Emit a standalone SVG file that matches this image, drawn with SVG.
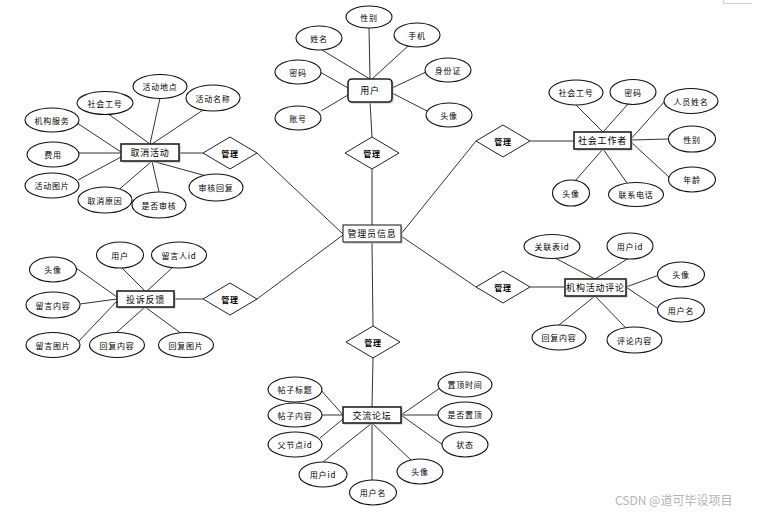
<svg xmlns="http://www.w3.org/2000/svg" width="764" height="514" viewBox="0 0 764 514">
<style>
.bg{fill:#fff}
.ln{stroke:#333;stroke-width:1;fill:none}
.at{fill:#fff;stroke:#111;stroke-width:1.1}
.en{fill:#fff;stroke:#222;stroke-width:1.6}
.sh{fill:#bbb;stroke:none}
.rel{fill:#fff;stroke:#222;stroke-width:1}
text{font-family:"Noto Sans CJK SC","Noto Sans",sans-serif;font-size:8px;fill:#000;text-anchor:middle;dominant-baseline:central;letter-spacing:0.8px}
.et{font-size:9px}
.rt{font-weight:bold;font-size:8px}
.wm{font-size:12px;fill:#b4b4b4;text-anchor:start;letter-spacing:0;dominant-baseline:alphabetic}
</style>
<rect class="bg" x="0" y="0" width="764" height="514"/>
<path d="M723.5,0 V3.5 H752" stroke="#ccc" stroke-width="1" fill="none"/>

<g id="connectors">
<!-- user -->
<line class="ln" x1="369" y1="28" x2="370" y2="79"/>
<line class="ln" x1="322" y1="50" x2="370" y2="79"/>
<line class="ln" x1="408" y1="46" x2="372" y2="79"/>
<line class="ln" x1="320" y1="72" x2="348" y2="88"/>
<line class="ln" x1="321" y1="111" x2="348" y2="95"/>
<line class="ln" x1="426" y1="72" x2="392" y2="88"/>
<line class="ln" x1="427" y1="111" x2="392" y2="93"/>
<line class="ln" x1="370" y1="102" x2="372" y2="137"/>
<line class="ln" x1="372" y1="169" x2="372" y2="225"/>
<!-- cancel activity -->
<line class="ln" x1="107" y1="113" x2="150" y2="144"/>
<line class="ln" x1="160" y1="98" x2="150" y2="144"/>
<line class="ln" x1="203" y1="110" x2="152" y2="144"/>
<line class="ln" x1="77" y1="123" x2="121" y2="152"/>
<line class="ln" x1="79" y1="153" x2="121" y2="153"/>
<line class="ln" x1="78" y1="180" x2="121" y2="157"/>
<line class="ln" x1="115" y1="193" x2="152" y2="161"/>
<line class="ln" x1="159" y1="192" x2="152" y2="161"/>
<line class="ln" x1="210" y1="177" x2="152" y2="161"/>
<line class="ln" x1="179" y1="153" x2="203" y2="153"/>
<line class="ln" x1="257" y1="153" x2="343" y2="234"/>
<!-- social worker -->
<line class="ln" x1="575" y1="104" x2="603" y2="132"/>
<line class="ln" x1="628" y1="104" x2="603" y2="132"/>
<line class="ln" x1="664" y1="102" x2="631" y2="139"/>
<line class="ln" x1="668" y1="139" x2="631" y2="140"/>
<line class="ln" x1="670" y1="178" x2="631" y2="142"/>
<line class="ln" x1="575" y1="181" x2="603" y2="149"/>
<line class="ln" x1="627" y1="183" x2="603" y2="149"/>
<line class="ln" x1="530" y1="141" x2="574" y2="141"/>
<line class="ln" x1="476" y1="141" x2="401" y2="234"/>
<!-- complaint -->
<line class="ln" x1="122" y1="268" x2="145" y2="291"/>
<line class="ln" x1="173" y1="267" x2="147" y2="291"/>
<line class="ln" x1="76" y1="268" x2="117" y2="297"/>
<line class="ln" x1="80" y1="304" x2="117" y2="299"/>
<line class="ln" x1="78" y1="342" x2="117" y2="301"/>
<line class="ln" x1="117" y1="332" x2="145" y2="307"/>
<line class="ln" x1="182" y1="334" x2="145" y2="307"/>
<line class="ln" x1="174" y1="299" x2="203" y2="299"/>
<line class="ln" x1="257" y1="299" x2="343" y2="235"/>
<!-- comment -->
<line class="ln" x1="555" y1="258" x2="595" y2="279"/>
<line class="ln" x1="629" y1="258" x2="595" y2="279"/>
<line class="ln" x1="659" y1="275" x2="626" y2="287"/>
<line class="ln" x1="660" y1="310" x2="626" y2="287"/>
<line class="ln" x1="559" y1="325" x2="595" y2="296"/>
<line class="ln" x1="625" y1="327" x2="595" y2="296"/>
<line class="ln" x1="530" y1="287" x2="565" y2="287"/>
<line class="ln" x1="476" y1="287" x2="401" y2="236"/>
<!-- forum -->
<line class="ln" x1="372" y1="242" x2="373" y2="326"/>
<line class="ln" x1="373" y1="358" x2="372" y2="407"/>
<line class="ln" x1="320" y1="389" x2="343" y2="415"/>
<line class="ln" x1="322" y1="415" x2="343" y2="415"/>
<line class="ln" x1="320" y1="438" x2="343" y2="419"/>
<line class="ln" x1="323" y1="462" x2="372" y2="423"/>
<line class="ln" x1="372" y1="423" x2="372" y2="480"/>
<line class="ln" x1="412" y1="461" x2="372" y2="423"/>
<line class="ln" x1="443" y1="445" x2="401" y2="415"/>
<line class="ln" x1="438" y1="415" x2="401" y2="415"/>
<line class="ln" x1="440" y1="388" x2="401" y2="415"/>
</g>

<g id="admin">
<rect class="sh" x="344.5" y="226.5" width="58" height="17"/>
<rect x="343" y="225" width="58" height="17" fill="#fff" stroke="#111" stroke-width="1"/>
<text class="et" x="372" y="233.5">管理员信息</text>
</g>

<g id="user">
<rect class="sh" x="349.5" y="80.5" width="44" height="23" rx="4"/>
<rect class="en" x="348" y="79" width="44" height="23" rx="4"/>
<text class="et" x="370" y="90.5">用户</text>
</g>
<g id="user-xingbie"><ellipse class="at" cx="369" cy="17" rx="23" ry="11"/><text x="369" y="17">性别</text></g>
<g id="user-xingming"><ellipse class="at" cx="319" cy="38" rx="23" ry="12"/><text x="319" y="38">姓名</text></g>
<g id="user-shouji"><ellipse class="at" cx="417" cy="35" rx="23" ry="12"/><text x="417" y="35">手机</text></g>
<g id="user-mima"><ellipse class="at" cx="298" cy="72" rx="23" ry="12"/><text x="298" y="72">密码</text></g>
<g id="user-shenfenzheng"><ellipse class="at" cx="448" cy="70" rx="23" ry="12"/><text x="448" y="70">身份证</text></g>
<g id="user-zhanghao"><ellipse class="at" cx="298" cy="118" rx="23" ry="12"/><text x="298" y="118">账号</text></g>
<g id="user-touxiang"><ellipse class="at" cx="449" cy="115" rx="23" ry="12"/><text x="449" y="115">头像</text></g>
<g id="rel-user"><polygon class="rel" points="372,137 399,153 372,169 345,153"/><text class="rt" x="372" y="153">管理</text></g>

<g id="cancel">
<rect class="sh" x="122.5" y="145.5" width="58" height="17"/>
<rect class="en" x="121" y="144" width="58" height="17"/>
<text class="et" x="150" y="152.5">取消活动</text>
</g>
<g id="c-gonghao"><ellipse class="at" cx="105" cy="103" rx="28" ry="11.5"/><text x="105" y="103">社会工号</text></g>
<g id="c-didian"><ellipse class="at" cx="160" cy="86.5" rx="27" ry="12"/><text x="160" y="86.5">活动地点</text></g>
<g id="c-mingcheng"><ellipse class="at" cx="213" cy="98" rx="27" ry="13"/><text x="213" y="98">活动名称</text></g>
<g id="c-fuwu"><ellipse class="at" cx="52" cy="120" rx="27" ry="12"/><text x="52" y="120">机构服务</text></g>
<g id="c-feiyong"><ellipse class="at" cx="53" cy="154.5" rx="26" ry="12.5"/><text x="53" y="154.5">费用</text></g>
<g id="c-tupian"><ellipse class="at" cx="52" cy="185.5" rx="27" ry="12.5"/><text x="52" y="185.5">活动图片</text></g>
<g id="c-yuanyin"><ellipse class="at" cx="105" cy="200" rx="27" ry="13"/><text x="105" y="200">取消原因</text></g>
<g id="c-shenhe"><ellipse class="at" cx="159" cy="205" rx="27" ry="13"/><text x="159" y="205">是否审核</text></g>
<g id="c-huifu"><ellipse class="at" cx="216" cy="187.5" rx="27" ry="13.5"/><text x="216" y="187.5">审核回复</text></g>
<g id="rel-cancel"><polygon class="rel" points="230,137 257,153 230,169 203,153"/><text class="rt" x="230" y="153">管理</text></g>

<g id="worker">
<rect class="sh" x="575.5" y="133.5" width="57" height="17"/>
<rect class="en" x="574" y="132" width="57" height="17"/>
<text class="et" x="602.5" y="140.5">社会工作者</text>
</g>
<g id="w-gonghao"><ellipse class="at" cx="576" cy="92.5" rx="27" ry="12.5"/><text x="576" y="92.5">社会工号</text></g>
<g id="w-mima"><ellipse class="at" cx="633" cy="92" rx="23" ry="12.5"/><text x="633" y="92">密码</text></g>
<g id="w-xingming"><ellipse class="at" cx="691" cy="101" rx="27" ry="12.5"/><text x="691" y="101">人员姓名</text></g>
<g id="w-xingbie"><ellipse class="at" cx="692" cy="139" rx="23.5" ry="13"/><text x="692" y="139">性别</text></g>
<g id="w-nianling"><ellipse class="at" cx="692" cy="179.5" rx="23.5" ry="12.5"/><text x="692" y="179.5">年龄</text></g>
<g id="w-touxiang"><ellipse class="at" cx="571" cy="193" rx="18.5" ry="13"/><text x="571" y="193">头像</text></g>
<g id="w-dianhua"><ellipse class="at" cx="636" cy="194.5" rx="27.5" ry="12"/><text x="636" y="194.5">联系电话</text></g>
<g id="rel-worker"><polygon class="rel" points="503,125 530,141 503,157 476,141"/><text class="rt" x="503" y="141">管理</text></g>

<g id="complaint">
<rect class="sh" x="118.5" y="292.5" width="57" height="16"/>
<rect class="en" x="117" y="291" width="57" height="16"/>
<text class="et" x="145.5" y="299">投诉反馈</text>
</g>
<g id="f-yonghu"><ellipse class="at" cx="120" cy="255" rx="23.5" ry="13"/><text x="120" y="255">用户</text></g>
<g id="f-liuyanren"><ellipse class="at" cx="179" cy="255" rx="27.5" ry="13"/><text x="179" y="255">留言人id</text></g>
<g id="f-touxiang"><ellipse class="at" cx="53" cy="269.5" rx="23.5" ry="12.5"/><text x="53" y="269.5">头像</text></g>
<g id="f-neirong"><ellipse class="at" cx="53" cy="305" rx="27" ry="13"/><text x="53" y="305">留言内容</text></g>
<g id="f-tupian"><ellipse class="at" cx="53" cy="345" rx="27" ry="12.5"/><text x="53" y="345">留言图片</text></g>
<g id="f-huifuneirong"><ellipse class="at" cx="117" cy="345" rx="27.5" ry="12.5"/><text x="117" y="345">回复内容</text></g>
<g id="f-huifutupian"><ellipse class="at" cx="186" cy="345" rx="27.5" ry="12.5"/><text x="186" y="345">回复图片</text></g>
<g id="rel-complaint"><polygon class="rel" points="230,283 257,299 230,315 203,299"/><text class="rt" x="230" y="299">管理</text></g>

<g id="comment">
<rect class="sh" x="566.5" y="280.5" width="61" height="17"/>
<rect class="en" x="565" y="279" width="61" height="17"/>
<text class="et" x="595.5" y="287.5">机构活动评论</text>
</g>
<g id="m-guanlian"><ellipse class="at" cx="552" cy="246.5" rx="28" ry="12"/><text x="552" y="246.5">关联表id</text></g>
<g id="m-yonghuid"><ellipse class="at" cx="630" cy="246" rx="23" ry="13"/><text x="630" y="246">用户id</text></g>
<g id="m-touxiang"><ellipse class="at" cx="681" cy="274.5" rx="23.5" ry="12.5"/><text x="681" y="274.5">头像</text></g>
<g id="m-yonghuming"><ellipse class="at" cx="681" cy="310" rx="23.5" ry="12"/><text x="681" y="310">用户名</text></g>
<g id="m-huifu"><ellipse class="at" cx="559" cy="337.5" rx="27" ry="12.5"/><text x="559" y="337.5">回复内容</text></g>
<g id="m-pinglun"><ellipse class="at" cx="634.5" cy="340" rx="27.5" ry="13"/><text x="634.5" y="340">评论内容</text></g>
<g id="rel-comment"><polygon class="rel" points="503,271 530,287 503,303 476,287"/><text class="rt" x="503" y="287">管理</text></g>

<g id="forum">
<rect class="sh" x="344.5" y="408.5" width="58" height="16"/>
<rect class="en" x="343" y="407" width="58" height="16"/>
<text class="et" x="372" y="415">交流论坛</text>
</g>
<g id="l-biaoti"><ellipse class="at" cx="295" cy="389.5" rx="27" ry="12.5"/><text x="295" y="389.5">帖子标题</text></g>
<g id="l-neirong"><ellipse class="at" cx="295" cy="415" rx="27" ry="12"/><text x="295" y="415">帖子内容</text></g>
<g id="l-fujiedian"><ellipse class="at" cx="295" cy="444.5" rx="27" ry="12.5"/><text x="295" y="444.5">父节点id</text></g>
<g id="l-yonghuid"><ellipse class="at" cx="323" cy="474.5" rx="24" ry="12.5"/><text x="323" y="474.5">用户id</text></g>
<g id="l-yonghuming"><ellipse class="at" cx="373" cy="492.5" rx="23.5" ry="12.5"/><text x="373" y="492.5">用户名</text></g>
<g id="l-touxiang"><ellipse class="at" cx="420" cy="471.5" rx="23" ry="12.5"/><text x="420" y="471.5">头像</text></g>
<g id="l-zhuangtai"><ellipse class="at" cx="465" cy="444.5" rx="23" ry="12.5"/><text x="465" y="444.5">状态</text></g>
<g id="l-zhiding"><ellipse class="at" cx="465" cy="414.5" rx="27" ry="12.5"/><text x="465" y="414.5">是否置顶</text></g>
<g id="l-zhidingshijian"><ellipse class="at" cx="465" cy="384.5" rx="27" ry="12.5"/><text x="465" y="384.5">置顶时间</text></g>
<g id="rel-forum"><polygon class="rel" points="373,326 400,342 373,358 346,342"/><text class="rt" x="373" y="342">管理</text></g>

<text class="wm" x="615" y="505">CSDN @道可毕设项目</text>
</svg>
